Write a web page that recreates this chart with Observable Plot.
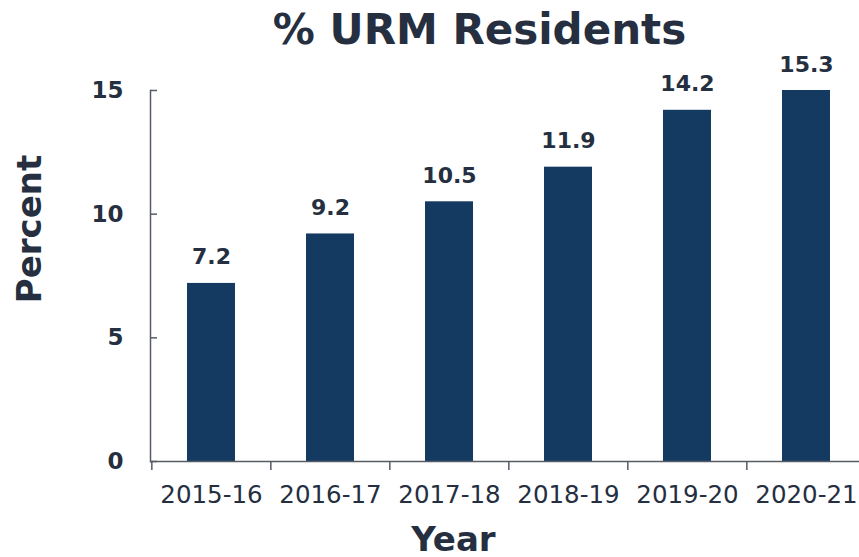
<!DOCTYPE html>
<html>
<head>
<meta charset="utf-8">
<script src="https://cdn.jsdelivr.net/npm/d3@7"></script>
<script src="https://cdn.jsdelivr.net/npm/@observablehq/plot@0.6"></script>
<style>
  html, body { margin: 0; padding: 0; background: #fff; }
  #title { height: 60px; line-height: 60px; padding-left: 100px; text-align: center;
           font-family: "DejaVu Sans", Verdana, sans-serif; font-weight: bold; font-size: 42px; color: #252f3f; }
  #chart svg { overflow: visible; display: block; }
</style>
</head>
<body>
<div id="title">% URM Residents</div>
<div id="chart"></div>
<script>
const years = ["2015-16", "2016-17", "2017-18", "2018-19", "2019-20", "2020-21"];
const percent = [7.2, 9.2, 10.5, 11.9, 14.2, 15.3];
const yTicks = [0, 5, 10, 15];

const data = years.map((year, i) => ({year, value: percent[i]}));

const W = 859, H = 497, ML = 150, MR = -7, MT = 30, MB = 96;
const step = (W - ML - MR) / years.length;
const textColor = "#252f3f";
const axisColor = "#555c66";
const barColor = "#153a62";
const font = "DejaVu Sans, Verdana, sans-serif";

const chart = Plot.plot({
  width: W,
  height: H,
  marginLeft: ML,
  marginRight: MR,
  marginTop: MT,
  marginBottom: MB,
  style: {fontFamily: font, color: textColor, background: "transparent", overflow: "visible"},
  x: {domain: years, paddingInner: 0.6, paddingOuter: 0.3, label: null},
  y: {domain: [0, 15], clamp: true, label: null},
  marks: [
    Plot.barY(data, {x: "year", y: "value", fill: barColor}),
    Plot.text(data, {x: "year", y: "value", text: d => d3.format(".1f")(d.value), dy: -26,
      fontSize: 22, fontWeight: "bold", fill: textColor}),
    // y axis labels
    Plot.axisY({ticks: yTicks, tickSize: 0, tickPadding: 27, fontSize: 23, fontWeight: "bold",
      fill: textColor, label: null, tickFormat: d3.format("d")}),
    // inward y ticks
    Plot.axisY({ticks: yTicks, tickSize: 7, dx: 7, text: null, stroke: axisColor, strokeWidth: 1.5, label: null}),
    Plot.frame({anchor: "left", stroke: axisColor, strokeWidth: 1.5}),
    // x axis
    Plot.ruleY([0], {stroke: axisColor, strokeWidth: 1.5}),
    Plot.axisX({tickSize: 0, tickPadding: 24, fontSize: 24.5, fill: textColor, label: null}),
    Plot.axisX({tickSize: 9, dx: -step / 2, text: null, stroke: axisColor, strokeWidth: 1.5, label: null}),
    // axis titles
    Plot.text(["Year"], {frameAnchor: "bottom", dx: -55, dy: 89, fontSize: 34, fontWeight: "bold", fill: textColor}),
    Plot.text(["Percent"], {frameAnchor: "left", textAnchor: "middle", dx: -120, dy: -47, rotate: -90,
      fontSize: 34, fontWeight: "bold", fill: textColor})
  ]
});
document.getElementById("chart").appendChild(chart);
</script>
</body>
</html>
